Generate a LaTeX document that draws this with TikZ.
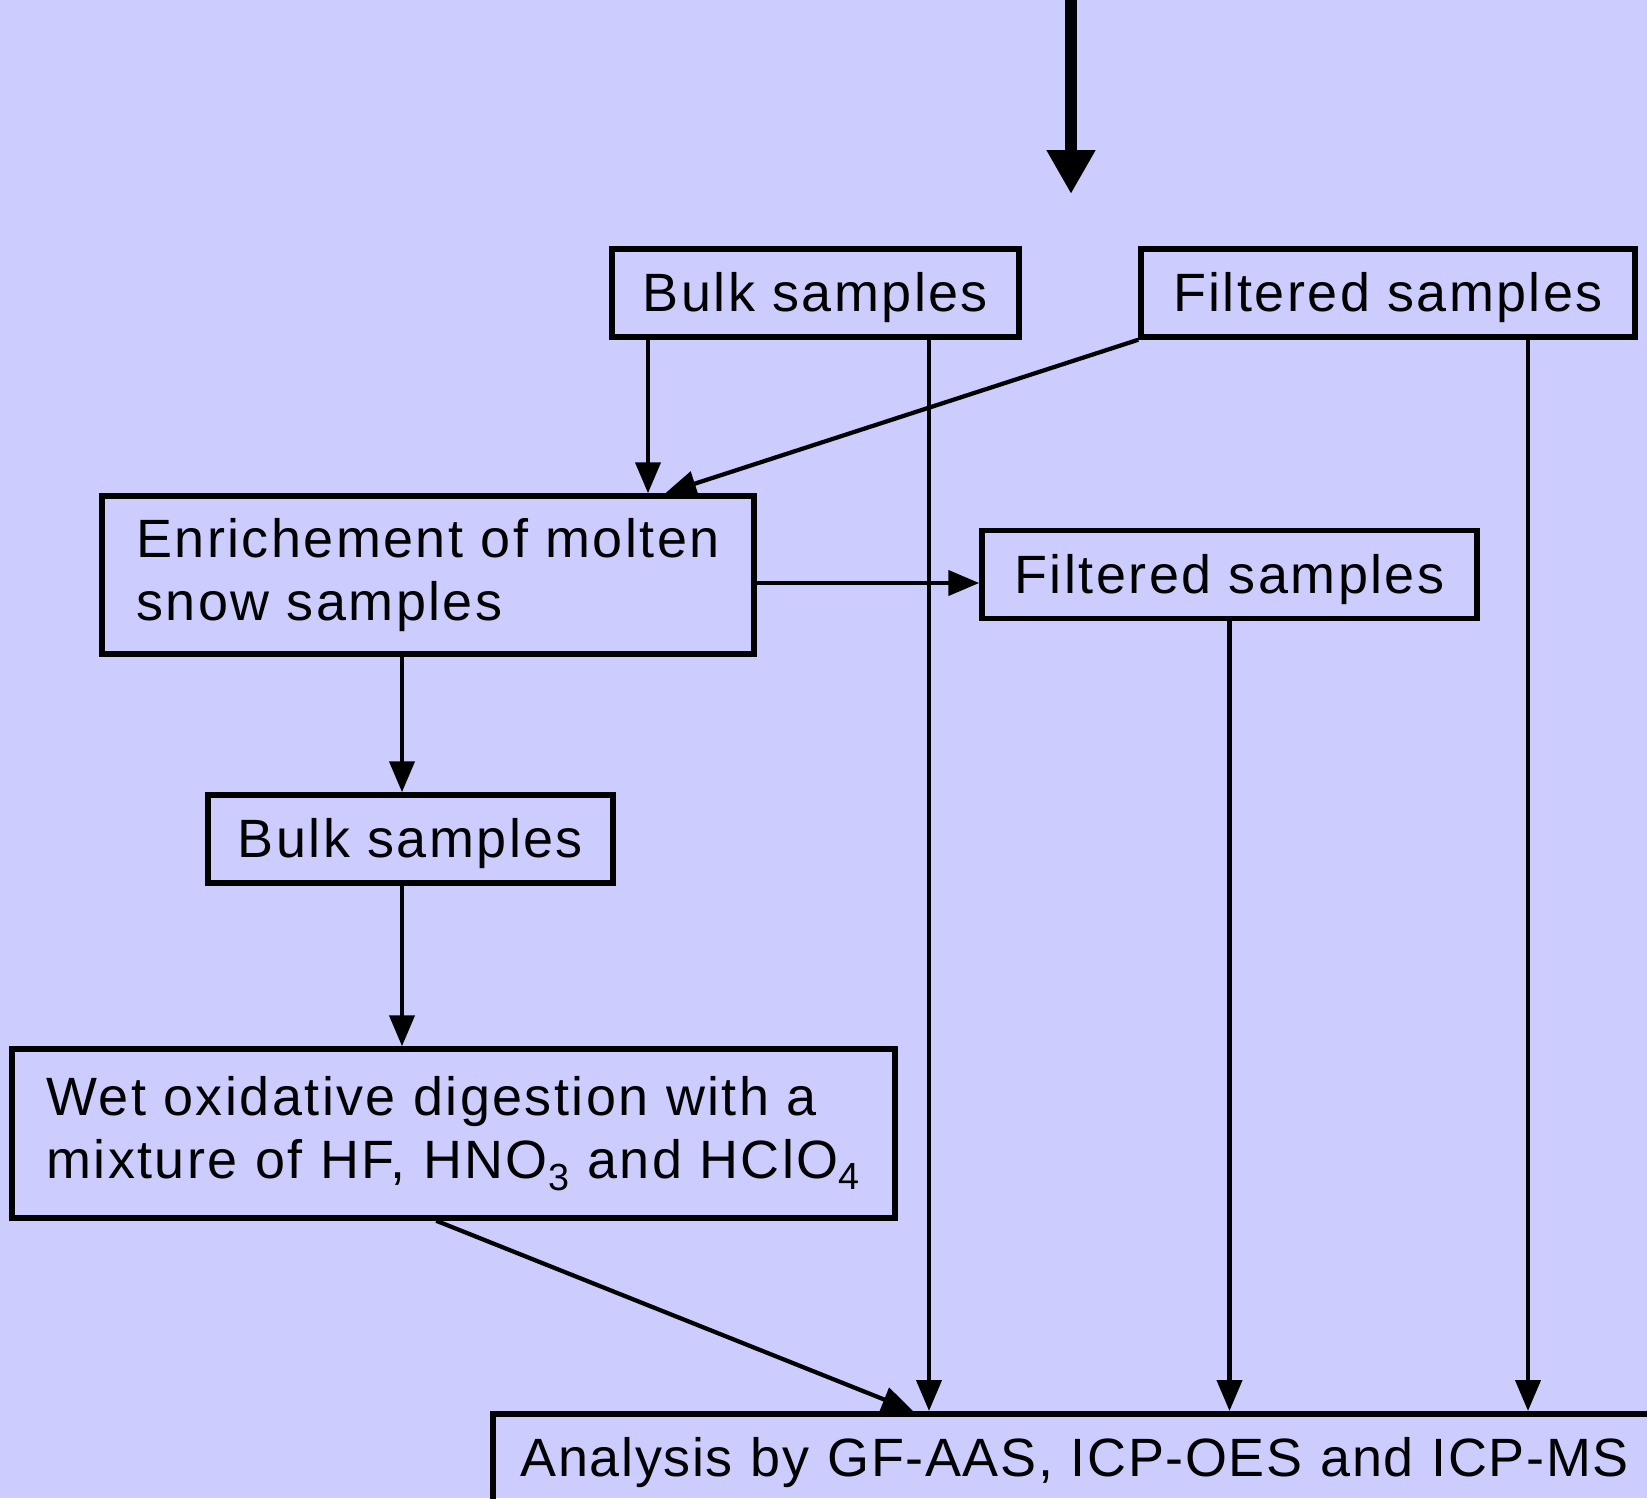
\documentclass[tikz,border=0pt]{standalone}
\usepackage{fontspec}
\setmainfont{Liberation Sans}[LetterSpace=4.5]
\usetikzlibrary{arrows.meta}
\definecolor{bgblue}{HTML}{CCCCFF}
\begin{document}
\begin{tikzpicture}[
		box/.style={draw, line width=.11cm, minimum height=1.76cm, inner sep=0pt, font=\fontsize{30.7}{36}\selectfont},
		line/.style={text height=.74cm, text depth=0pt},
		arr/.style={line width=.085cm, -{Triangle[length=.62cm,width=.5cm]}}]
		\fill[bgblue] (0,0) rectangle (32.94,-29.96);
		\useasboundingbox (0,0) rectangle (32.94,-29.96);
		\node[box, line, minimum width=8.14cm] (bulkA) at (16.31,-5.86) {Bulk samples};
		\node[box, line, minimum width=9.88cm] (filtA) at (27.76,-5.86) {Filtered samples};
		\node[box, minimum width=13.04cm, minimum height=3.16cm, align=left] (enrich) at (8.56,-11.5) {Enrichement of molten\\snow samples};
		\node[box, line, minimum width=9.9cm] (filtB) at (24.59,-11.49) {Filtered samples};
		\node[box, line, minimum width=8.1cm] (bulkB) at (8.21,-16.78) {Bulk samples};
		\node[box, minimum width=17.66cm, minimum height=3.38cm, align=left] (digest) at (9.07,-22.67) {Wet oxidative digestion with a\\mixture of HF, HNO\textsubscript{3} and HClO\textsubscript{4}};
		\node[box, line, anchor=north west, text width=23cm, align=left, inner xsep=.56cm, font=\fontsize{30.7}{36}\selectfont\addfontfeatures{LetterSpace=3}] (analysis) at (9.8,-28.22) {Analysis by GF-AAS, ICP-OES and ICP-MS};
		% columns and row of the straight connectors
		\coordinate (colL) at (8.04,0);
		\coordinate (colE) at (12.96,0);
		\coordinate (colB) at (18.58,0);
		\coordinate (colF) at (30.56,0);
		\coordinate (rowH) at (0,-11.66);
		\coordinate (src) at (21.42,0);
		\coordinate (snk) at (21.42,-3.88);
		\draw[line width=.24cm, -{Triangle[length=.88cm,width=.92cm]}] (src) -- (snk);
		\draw[arr] (colE |- bulkA.south) -- (colE |- enrich.north);
		\draw[arr] (filtA.south west) -- ([xshift=11.32cm]enrich.north west);
		\draw[arr] (colB |- bulkA.south) -- (colB |- analysis.north);
		\draw[arr] (colF |- filtA.south) -- (colF |- analysis.north);
		\draw[arr] (enrich.east |- rowH) -- (filtB.west |- rowH);
		\draw[arr] (filtB.south) -- (filtB.south |- analysis.north);
		\draw[arr] (colL |- enrich.south) -- (colL |- bulkB.north);
		\draw[arr] (colL |- bulkB.south) -- (colL |- digest.north);
		\draw[arr] ([xshift=8.54cm]digest.south west) -- ([xshift=8.46cm]analysis.north west);
	\end{tikzpicture}
\end{document}
